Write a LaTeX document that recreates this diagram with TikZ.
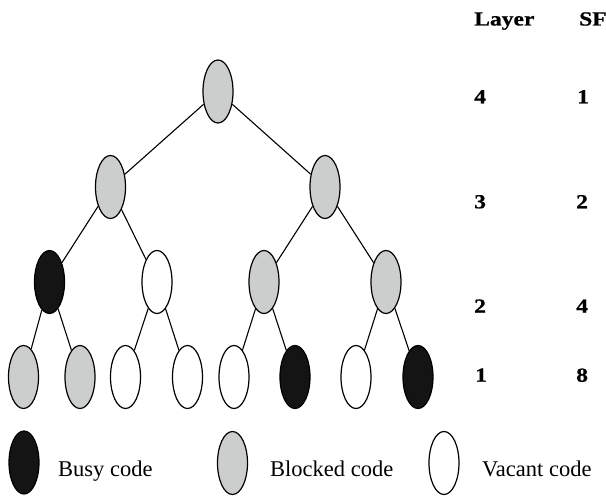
\documentclass[tikz,border=0pt]{standalone}
\usepackage{fontspec}
\setmainfont{Liberation Serif}
\newfontfamily\tabfont[FakeStretch=1.18,FakeBold=0.6]{Liberation Serif Bold}
\usetikzlibrary{shapes.geometric}
\definecolor{blockgray}{RGB}{204,206,205}
\definecolor{busyblack}{RGB}{20,20,20}
\tikzset{
  code/.style={ellipse, draw=black, line width=1.2pt, minimum width=30pt,
    minimum height=63pt, inner sep=0pt},
  busy/.style={code, fill=busyblack},
  blocked/.style={code, fill=blockgray},
  vacant/.style={code, fill=white},
  link/.style={line width=1.1pt, black},
  legendtxt/.style={anchor=base west, inner sep=0pt,
    font=\fontsize{22.5}{26}\selectfont},
  tabtxt/.style={anchor=base west, inner sep=0pt,
    font=\fontsize{20}{24}\tabfont}
}
\begin{document}
\begin{tikzpicture}[x=1pt,y=-1pt]
\useasboundingbox (0,0) rectangle (606,497);
% tree of codes
\node[blocked] (r)   at (218,91.5) {};
\node[blocked] (a1)  at (110.5,187) {};
\node[blocked] (a2)  at (325,187) {};
\node[busy]    (b1)  at (49.5,282) {};
\node[vacant]  (b2)  at (157,282) {};
\node[blocked] (b3)  at (264,282) {};
\node[blocked] (b4)  at (386,282) {};
\node[blocked] (c1)  at (23.5,377) {};
\node[blocked] (c2)  at (80,377) {};
\node[vacant]  (c3)  at (125.5,377) {};
\node[vacant]  (c4)  at (187.5,377) {};
\node[vacant]  (c5)  at (234,377) {};
\node[busy]    (c6)  at (295,377) {};
\node[vacant]  (c7)  at (356,377) {};
\node[busy]    (c8)  at (418,377) {};
\draw[link] (r) -- (a1);
\draw[link] (r) -- (a2);
\draw[link] (a1) -- (b1);
\draw[link] (a1) -- (b2);
\draw[link] (a2) -- (b3);
\draw[link] (a2) -- (b4);
\draw[link] (b1) -- (c1);
\draw[link] (b1) -- (c2);
\draw[link] (b2) -- (c3);
\draw[link] (b2) -- (c4);
\draw[link] (b3) -- (c5);
\draw[link] (b3) -- (c6);
\draw[link] (b4) -- (c7);
\draw[link] (b4) -- (c8);
% layer / spreading factor table
\node[tabtxt] (hl) at (474,25.5) {Layer};
\node[tabtxt] (hs) at (579,25.5) {SF};
\node[tabtxt] (l4) at (474,103.3) {4};
\node[tabtxt] (s4) at (577,103.3) {1};
\node[tabtxt] (l3) at (474,208.3) {3};
\node[tabtxt] (s3) at (576,208.3) {2};
\node[tabtxt] (l2) at (474,312.7) {2};
\node[tabtxt] (s2) at (576,312.7) {4};
\node[tabtxt] (l1) at (475,381.7) {1};
\node[tabtxt] (s1) at (576,381.7) {8};
% legend
\node[busy]    (kb) at (24,462.5) {};
\node[legendtxt] (tb) at (58,476) {Busy code};
\node[blocked] (kl) at (232.5,463) {};
\node[legendtxt] (tl) at (270,476) {Blocked code};
\node[vacant]  (kv) at (444,463) {};
\node[legendtxt] (tv) at (482,476) {Vacant code};
\end{tikzpicture}
\end{document}
